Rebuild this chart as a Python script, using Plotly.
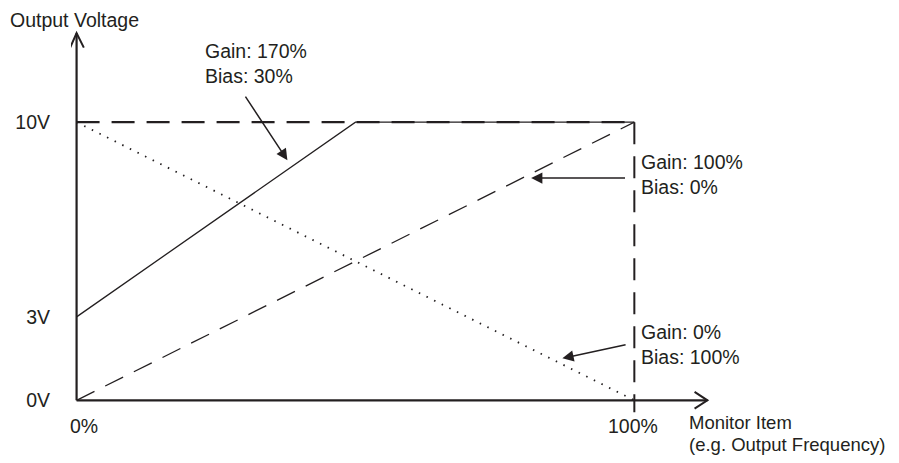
import plotly.graph_objects as go

# values
g170_x = [0, 50, 100]
g170_v = [3, 10, 10]
g100_x = [0, 100]
g100_v = [0, 10]
g0_x = [0, 100]
g0_v = [10, 0]

v_max = 10      # output ceiling (dashed top line)
x_max = 100     # 100% of monitor item

y_tick_vals = [0, 3, 10]
y_tick_text = ['0V', '3V', '10V']
x_tick_vals = [1.4, 99.8]
x_tick_text = ['0%', '100%']

ink = '#231f20'
font = dict(family='Liberation Sans, Arial, sans-serif', size=19.5, color=ink)

fig = go.Figure()

# ceiling line at 10V
fig.add_trace(go.Scatter(x=[0, x_max], y=[v_max, v_max], mode='lines',
                         line=dict(color=ink, width=2.2, dash='23px,12px')))
# 100% marker line, running just below the x axis
fig.add_trace(go.Scatter(x=[x_max, x_max], y=[v_max, -0.43], mode='lines',
                         line=dict(color=ink, width=2, dash='22px,12px')))

# the three gain/bias curves
fig.add_trace(go.Scatter(x=g100_x, y=g100_v, mode='lines',
                         line=dict(color=ink, width=1.3, dash='20px,12px')))
fig.add_trace(go.Scatter(x=g0_x, y=g0_v, mode='lines',
                         line=dict(color=ink, width=1.8, dash='1.5px,7px')))
fig.add_trace(go.Scatter(x=g170_x, y=g170_v, mode='lines',
                         line=dict(color=ink, width=1.3)))

# axes drawn by hand so they end at the origin, with open arrow heads
shapes = [
    dict(type='line', x0=0, y0=0, x1=113.1, y1=0, line=dict(color=ink, width=2.2)),
    dict(type='line', x0=0, y0=0, x1=0, y1=13.2, line=dict(color=ink, width=2.2)),
    dict(type='path', path='M -1.15,12.68 L 0,13.2 L 1.3,12.68', line=dict(color=ink, width=2)),
    dict(type='path', path='M 110.8,0.3 L 113.1,0 L 110.8,-0.3', line=dict(color=ink, width=2)),
]

notes = []
# x tick labels
for xv, txt in zip(x_tick_vals, x_tick_text):
    notes.append(dict(x=xv, xref='x', y=-0.0228, yref='paper', text=txt, showarrow=False,
                      xanchor='center', yanchor='middle'))

# axis titles
notes.append(dict(x=-0.0974, y=1.005, xref='paper', yref='paper', text='Output Voltage',
                  showarrow=False, xanchor='left', yanchor='middle'))
notes.append(dict(x=0.9536, y=-0.0127, xref='paper', yref='paper', text='Monitor Item',
                  showarrow=False, xanchor='left', yanchor='middle', borderpad=0,
                  font=dict(font, size=18.5)))
notes.append(dict(x=0.9536, y=-0.0684, xref='paper', yref='paper',
                  text='(e.g. Output Frequency)', borderpad=0,
                  showarrow=False, xanchor='left', yanchor='middle', font=dict(font, size=18.5)))

# gain / bias labels
labels = [
    ('Gain: 170%<br>Bias: 30%', 22.6, 12.1),
    ('Gain: 100%<br>Bias: 0%', 100.9, 8.11),
    ('Gain: 0%<br>Bias: 100%', 100.9, 2.01),
]
for txt, lx, ly in labels:
    notes.append(dict(x=lx, y=ly, text=txt, showarrow=False, xanchor='left',
                      yanchor='middle', align='left'))

# arrows pointing at the curves (tail -> tip)
arrows = [
    ((30.1, 10.97), (37.8, 8.63)),
    ((98.6, 7.99), (81.5, 7.99)),
    ((98.7, 2.01), (87.1, 1.51)),
]
for (tx, ty), (hx, hy) in arrows:
    notes.append(dict(x=hx, y=hy, ax=tx, ay=ty, axref='x', ayref='y', text='',
                      showarrow=True, arrowhead=2, arrowsize=1.5, arrowwidth=1.5,
                      arrowcolor=ink))

# page body has an 8px margin, so the figure is sized to fit inside the window
fig.update_layout(
    width=883, height=447,
    margin=dict(l=63, r=173, t=14, b=38, autoexpand=False),
    paper_bgcolor='white', plot_bgcolor='white',
    showlegend=False,
    font=font,
    shapes=shapes,
    annotations=notes,
    xaxis=dict(range=[-1, 115], showgrid=False, zeroline=False, showline=False,
               showticklabels=False, ticks='', automargin=False),
    yaxis=dict(range=[-0.6, 13.6], showgrid=False, zeroline=False, showline=False,
               tickvals=y_tick_vals, ticktext=y_tick_text, ticks='',
               ticklabelstandoff=20, tickfont=font, automargin=False),
)

fig.write_html('out.html')
